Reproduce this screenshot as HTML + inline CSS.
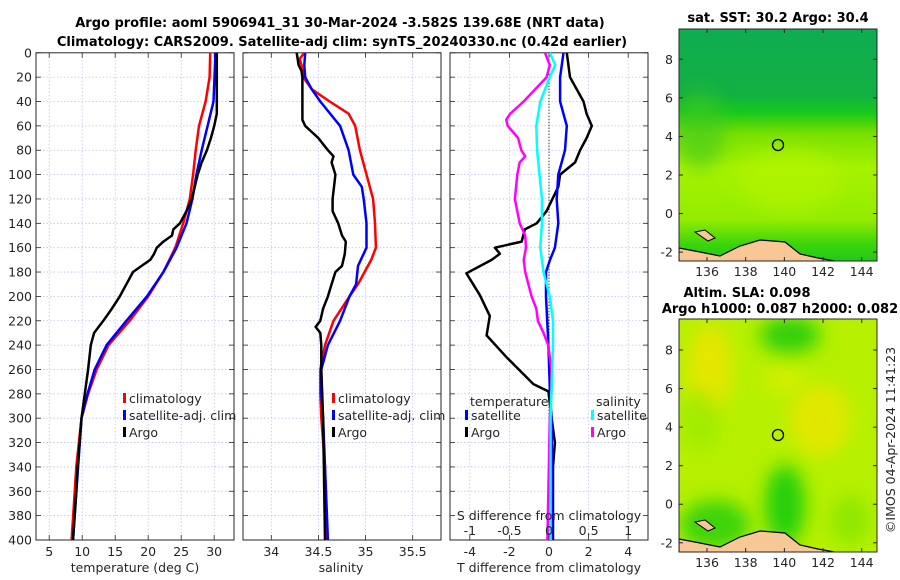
<!DOCTYPE html>
<html><head><meta charset="utf-8"><style>
html,body{margin:0;padding:0;background:#fff;}
svg{display:block;font-family:"DejaVu Sans","Liberation Sans",sans-serif;}
.tk{font-size:12.5px;fill:#262626;}
.tt{font-size:13px;font-weight:bold;fill:#000;}
</style></head><body>
<svg id="fig" width="900" height="580" viewBox="0 0 900 580" xmlns="http://www.w3.org/2000/svg">
<defs>
<linearGradient id="sstg" x1="0" y1="0" x2="0" y2="1">
<stop offset="0" stop-color="#10ac52"/><stop offset="0.28" stop-color="#12b043"/>
<stop offset="0.36" stop-color="#18c81c"/><stop offset="0.45" stop-color="#78e000"/>
<stop offset="0.6" stop-color="#a6f200"/><stop offset="0.82" stop-color="#94ec00"/>
<stop offset="0.93" stop-color="#3ad40c"/><stop offset="1" stop-color="#22c818"/>
</linearGradient>
<filter id="blur" x="-50%" y="-50%" width="200%" height="200%"><feGaussianBlur stdDeviation="9"/></filter>
<clipPath id="c1"><rect x="679" y="29" width="198" height="232"/></clipPath>
<clipPath id="c2"><rect x="679" y="319" width="198" height="233"/></clipPath>
</defs>
<text class="tt" x="340" y="27" text-anchor="middle">Argo profile: aoml 5906941_31 30-Mar-2024 -3.582S 139.68E (NRT data)</text>
<text class="tt" x="342" y="46" text-anchor="middle">Climatology: CARS2009. Satellite-adj clim: synTS_20240330.nc (0.42d earlier)</text>
<g id="p1"></g>
<g id="p2"></g>
<g id="p3"></g>

<g>
<text class="tt" x="778" y="22" text-anchor="middle">sat. SST: 30.2 Argo: 30.4</text>
<g clip-path="url(#c1)">
<rect x="679" y="29" width="198" height="232" fill="url(#sstg)"/>
<ellipse cx="700" cy="130" rx="25" ry="40" fill="#40c820" opacity="0.6" filter="url(#blur)"/>
<ellipse cx="790" cy="180" rx="50" ry="30" fill="#b4f400" opacity="0.7" filter="url(#blur)"/>
<polygon points="679,248 700,252 720,256 740,246 760,240 785,242 800,254 818,258 840,262 679,262" fill="#f7c896" stroke="#000" stroke-width="1.2"/>
<polygon points="695,232 705,230 715,238 708,241" fill="#f7c896" stroke="#000" stroke-width="1"/>
</g>
<rect x="679" y="29" width="198" height="232" fill="none" stroke="#262626" stroke-width="1"/>
<circle cx="778" cy="145" r="5.5" fill="none" stroke="#000" stroke-width="1.3"/>
<g id="m1ticks"></g>
</g>

<g>
<text class="tt" x="747" y="297" text-anchor="middle">Altim. SLA: 0.098</text>
<text class="tt" x="780" y="313" text-anchor="middle">Argo h1000: 0.087 h2000: 0.082</text>
<g clip-path="url(#c2)">
<rect x="679" y="319" width="198" height="233" fill="#b6f000"/>
<ellipse cx="710" cy="370" rx="22" ry="45" fill="#f2e400" opacity="0.8" filter="url(#blur)"/>
<ellipse cx="820" cy="420" rx="30" ry="35" fill="#eee600" opacity="0.8" filter="url(#blur)"/>
<ellipse cx="785" cy="380" rx="20" ry="15" fill="#e0ee00" opacity="0.7" filter="url(#blur)"/>
<ellipse cx="790" cy="335" rx="30" ry="18" fill="#22cc10" opacity="0.9" filter="url(#blur)"/>
<ellipse cx="785" cy="505" rx="20" ry="40" fill="#18cc10" opacity="0.9" filter="url(#blur)"/>
<ellipse cx="715" cy="525" rx="35" ry="25" fill="#30d010" opacity="0.9" filter="url(#blur)"/>
<ellipse cx="700" cy="420" rx="20" ry="30" fill="#98ea00" opacity="0.7" filter="url(#blur)"/>
<ellipse cx="850" cy="520" rx="20" ry="25" fill="#80e400" opacity="0.7" filter="url(#blur)"/>
<polygon points="679,539 700,543 720,547 740,537 760,531 785,533 800,545 818,549 840,553 679,553" fill="#f7c896" stroke="#000" stroke-width="1.2"/>
<polygon points="695,522 705,520 715,528 708,531" fill="#f7c896" stroke="#000" stroke-width="1"/>
</g>
<rect x="679" y="319" width="198" height="233" fill="none" stroke="#262626" stroke-width="1"/>
<circle cx="778" cy="435" r="5.5" fill="none" stroke="#000" stroke-width="1.3"/>
<g id="m2ticks"></g>
</g>
<text class="tk" transform="translate(895,440) rotate(-90)" text-anchor="middle">©IMOS 04-Apr-2024 11:41:23</text>
</svg>
<script>
// ---- data (depth in m) ----
const depthTicks=[0,20,40,60,80,100,120,140,160,180,200,220,240,260,280,300,320,340,360,380,400];
const tempTicks=[5,10,15,20,25,30];
const salTicks=[34,34.5,35,35.5];
const tdiffTicks=[-4,-2,0,2,4];
const sdiffTicks=[-1,-0.5,0,0.5,1];

const climDepth=[0,20,40,60,80,100,120,140,160,180,200,220,240,260,280,300,340,400];
const climTemp=[29.4,29.3,28.7,27.7,27.2,26.8,26.3,25.3,24.1,22.3,20.0,17.2,14.0,12.2,10.9,9.9,9.1,8.4];
const satDepth=[0,40,60,80,100,120,140,160,180,200,220,240,260,280,300,400];
const satTemp=[30.2,29.9,29.0,28.1,27.3,26.7,25.8,24.3,22.3,19.8,16.7,13.7,11.9,10.8,9.9,8.6];
const argoTDepth=[0,50,60,70,80,90,100,120,130,140,145,150,155,160,165,170,175,180,190,200,210,220,230,240,260,280,300,320,340,360,400];
const argoTemp=[30.4,30.4,30.0,29.5,28.9,28.1,27.5,26.6,25.8,24.8,23.8,23.6,22.3,21.3,20.9,20.3,19.0,17.7,16.7,15.7,14.5,13.2,11.8,11.3,10.9,10.4,9.9,9.6,9.3,9.1,8.6];

const climSDepth=[0,5,10,20,30,40,50,60,80,100,120,140,160,170,180,190,200,220,240,260,280,300,340,400];
const climSal=[34.35,34.30,34.32,34.34,34.43,34.62,34.82,34.89,34.94,35.01,35.08,35.10,35.11,35.06,34.99,34.92,34.83,34.66,34.57,34.52,34.52,34.53,34.57,34.59];
const satSDepth=[0,10,20,30,40,60,80,100,110,120,140,160,175,190,200,220,240,260,280,300,400];
const satSal=[34.36,34.35,34.36,34.43,34.52,34.73,34.82,34.87,34.96,34.98,35.01,35.01,34.92,34.90,34.83,34.73,34.60,34.53,34.53,34.55,34.60];
const argoSDepth=[0,10,15,20,55,60,65,70,80,85,90,100,120,130,140,150,155,165,175,180,190,200,210,220,225,230,240,260,300,400];
const argoSal=[34.27,34.29,34.32,34.33,34.33,34.36,34.43,34.50,34.60,34.66,34.64,34.68,34.65,34.65,34.71,34.75,34.79,34.78,34.75,34.68,34.64,34.60,34.55,34.52,34.47,34.52,34.53,34.53,34.55,34.57];

const dTsatDepth=[0,20,40,60,80,100,120,140,160,170,180,200,240,280,300,400];
const dTsat=[0.73,0.56,0.56,0.9,0.81,0.47,0.39,0.47,0.30,0.05,-0.15,-0.15,-0.03,0.05,0.13,0.18];
const dTargoDepth=[0,20,40,50,60,70,80,90,100,110,130,140,145,155,160,165,170,181,199,216,232,250,272,278,300,320,340,400];
const dTargo=[0.9,1.06,1.74,1.9,2.16,1.9,1.57,1.32,0.56,0.47,-0.12,-0.62,-1.22,-1.38,-2.73,-2.48,-2.9,-4.17,-3.49,-2.99,-3.15,-2.14,-0.79,-0.03,0.13,0.30,0.2,0.2];
const dSsatDepth=[0,10,20,40,60,80,100,120,140,160,180,190,200,220,240,260,280,300,400];
const dSsat=[0.01,0.08,0.01,-0.11,-0.16,-0.15,-0.12,-0.09,-0.09,-0.11,-0.07,-0.03,0.01,0.05,0.05,0.04,0.03,0.02,0.02];
const dSargoDepth=[0,10,20,40,50,55,60,70,80,85,90,100,120,140,150,160,170,180,200,210,220,230,240,260,280,300,400];
const dSargo=[-0.05,0.01,-0.03,-0.32,-0.49,-0.54,-0.52,-0.39,-0.35,-0.30,-0.37,-0.40,-0.43,-0.37,-0.30,-0.29,-0.32,-0.30,-0.22,-0.16,-0.14,-0.07,-0.01,0.03,0.03,0.01,-0.02];

const latTicks=[-2,0,2,4,6,8];
const lonTicks=[136,138,140,142,144];

const NS="http://www.w3.org/2000/svg";
function mk(parent,tag,attrs,txt){const e=document.createElementNS(NS,tag);for(const k in attrs)e.setAttribute(k,attrs[k]);if(txt!==undefined)e.textContent=txt;parent.appendChild(e);return e;}
const Y0=52.8,Y1=540;
function yD(d){return Y0+(d/400)*(Y1-Y0);}
function lin(a,b,p,q){return v=>p+(v-a)/(b-a)*(q-p);}

function panel(g,x0,x1,xs,xticks,ylabels){
  for(const t of xticks){const x=xs(t);
    const l=mk(g,'line',{x1:x,x2:x,y1:Y0,y2:Y1,stroke:'#b8c4ec','stroke-width':0.8,'stroke-dasharray':'1.5,2'});
    
    
    mk(g,'line',{x1:x,x2:x,y1:Y1,y2:Y1-5,stroke:'#262626','stroke-width':0.8});
    mk(g,'line',{x1:x,x2:x,y1:Y0,y2:Y0+5,stroke:'#262626','stroke-width':0.8});}
  for(const d of depthTicks){const y=yD(d);
    if(d>0&&d<400){const l=mk(g,'line',{x1:x0,x2:x1,y1:y,y2:y,stroke:'#b8c4ec','stroke-width':0.8,'stroke-dasharray':'1.5,2'});
      
      }
    mk(g,'line',{x1:x0,x2:x0+5,y1:y,y2:y,stroke:'#262626','stroke-width':0.8});
    mk(g,'line',{x1:x1,x2:x1-5,y1:y,y2:y,stroke:'#262626','stroke-width':0.8});
    if(ylabels){const t=mk(g,'text',{class:'tk',x:x0-4,y:y+4.5,'text-anchor':'end'},String(d));
      
      }}
  mk(g,'rect',{x:x0,y:Y0,width:x1-x0,height:Y1-Y0,fill:'none',stroke:'#262626','stroke-width':1});
}
function series(g,xs,depths,vals,color,name,w){
  const pts=depths.map((d,i)=>xs(vals[i]).toFixed(1)+','+yD(d).toFixed(1)).join(' ');
  const p=mk(g,'polyline',{points:pts,fill:'none',stroke:color,'stroke-width':w||2.5,'stroke-linejoin':'round'});
  
  
}
function leg(g,x,y,color,label,name){
  mk(g,'rect',{x:x,y:y-9,width:3,height:10,fill:color});
  const t=mk(g,'text',{class:'tk',x:x+6,y:y+1},label);
  
  
}
function xlabels(g,xs,ticks,y){for(const t of ticks){const e=mk(g,'text',{class:'tk',x:xs(t),y:y,'text-anchor':'middle'},String(t));
  
  }}

// Panel 1
const p1=document.getElementById('p1');const xT=lin(3,33,36,234);
panel(p1,36,234,xT,tempTicks,true);
series(p1,xT,climDepth,climTemp,'#ff0000','temp-climatology-line');
series(p1,xT,satDepth,satTemp,'#0000ff','temp-satellite-line');
series(p1,xT,argoTDepth,argoTemp,'#000000','temp-argo-line');
xlabels(p1,xT,tempTicks,556);
let e=mk(p1,'text',{class:'tk',x:135,y:572,'text-anchor':'middle'},'temperature (deg C)');


leg(p1,123,402,'#ff0000','climatology','legend-climatology');
leg(p1,123,419,'#0000ff','satellite-adj. clim','legend-satellite');
leg(p1,123,436,'#000000','Argo','legend-argo');

// Panel 2
const p2=document.getElementById('p2');const xS=lin(33.7,35.8,243,441);
panel(p2,243,441,xS,salTicks,false);
series(p2,xS,climSDepth,climSal,'#ff0000','sal-climatology-line');
series(p2,xS,satSDepth,satSal,'#0000ff','sal-satellite-line');
series(p2,xS,argoSDepth,argoSal,'#000000','sal-argo-line');
xlabels(p2,xS,salTicks,556);
e=mk(p2,'text',{class:'tk',x:341,y:572,'text-anchor':'middle'},'salinity');


leg(p2,332,402,'#ff0000','climatology','legend-climatology');
leg(p2,332,419,'#0000ff','satellite-adj. clim','legend-satellite');
leg(p2,332,436,'#000000','Argo','legend-argo');

// Panel 3
const p3=document.getElementById('p3');const xD=lin(-5,5,450,648);const xSD=lin(-1.25,1.25,450,648);
panel(p3,450,648,xD,tdiffTicks,false);
mk(p3,'line',{x1:xD(0),x2:xD(0),y1:Y0,y2:Y1,stroke:'#000','stroke-width':1,'stroke-dasharray':'1,2'});
series(p3,xD,dTargoDepth,dTargo,'#000000','tdiff-argo-line');
series(p3,xD,dTsatDepth,dTsat,'#0000ff','tdiff-satellite-line');
series(p3,xSD,dSargoDepth,dSargo,'#ff00ff','sdiff-argo-line');
series(p3,xSD,dSsatDepth,dSsat,'#00ffff','sdiff-satellite-line');
xlabels(p3,xD,tdiffTicks,556);
xlabels(p3,xSD,sdiffTicks,535);
e=mk(p3,'text',{class:'tk',x:549,y:572,'text-anchor':'middle'},'T difference from climatology');


e=mk(p3,'text',{class:'tk',x:549,y:520,'text-anchor':'middle'},'S difference from climatology');


e=mk(p3,'text',{class:'tk',x:470,y:406},'temperature');


e=mk(p3,'text',{class:'tk',x:596,y:406},'salinity');


leg(p3,465,419,'#0000ff','satellite','legend-temp-satellite');
leg(p3,465,436,'#000000','Argo','legend-temp-argo');
leg(p3,591,419,'#00ffff','satellite','legend-sal-satellite');
leg(p3,591,436,'#ff00ff','Argo','legend-sal-argo');

// map ticks
function mapTicks(id,top,bot){
  const g=document.getElementById(id);
  const xl=lin(136,144,707,861.7);
  const yl=lin(8,-2,bot-(bot-top)*0+0,0);
}
function mticks(id,y8,yBottom,yTop){
  const g=document.getElementById(id);
  const xl=lin(136,144,707,861.7);const yl=lin(8,-2,y8,y8+192.8);
  for(const t of lonTicks){const x=xl(t);
    mk(g,'line',{x1:x,x2:x,y1:yBottom,y2:yBottom-4,stroke:'#262626'});
    mk(g,'line',{x1:x,x2:x,y1:yTop,y2:yTop+4,stroke:'#262626'});
    e=mk(g,'text',{class:'tk',x:x,y:yBottom+15,'text-anchor':'middle'},String(t));
    
    }
  for(const t of latTicks){const y=yl(t);
    mk(g,'line',{x1:679,x2:683,y1:y,y2:y,stroke:'#262626'});
    mk(g,'line',{x1:877,x2:873,y1:y,y2:y,stroke:'#262626'});
    e=mk(g,'text',{class:'tk',x:673,y:y+4.5,'text-anchor':'end'},String(t));
    
    }
}
mticks('m1ticks',59.3,261,29);
mticks('m2ticks',350,552,319);
</script>
</body></html>
